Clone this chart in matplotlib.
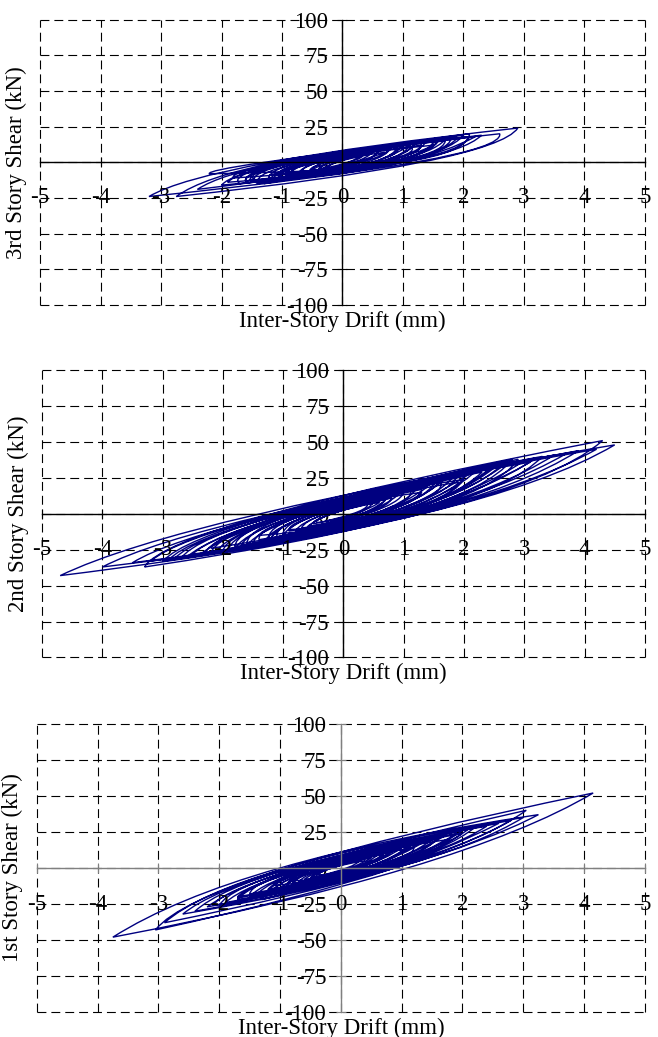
import matplotlib
matplotlib.use("Agg")
import matplotlib.pyplot as plt
from matplotlib.path import Path
from matplotlib.patches import PathPatch

plt.rcParams["font.family"] = ["Liberation Serif", "DejaVu Serif"]
plt.rcParams["axes.unicode_minus"] = False

# x and y ticks shared by all three panels
drift_ticks = [-5, -4, -3, -2, -1, 0, 1, 2, 3, 4, 5]
shear_ticks = [-100, -75, -50, -25, 0, 25, 50, 75, 100]

# 3rd story: turning points (drift mm, shear kN) and the drift where each
# branch between two turning points crosses zero shear
s3_drift = [0.3, -0.4, 0.6, -0.5, 0.9, -0.8, 1.2, -1.0, 1.5, -1.4, 2.1, -2.2,
            1.6, -1.3, 2.6, -3.2, 2.9, -2.75, 2.1, -2.0, 1.8, -1.7, 2.3, -1.9,
            1.5, -1.5, 2.0, -1.6, 1.7, -1.2, 1.3, -1.4, 1.6, -1.0, 1.1, -0.9,
            0.9, -1.1, 1.4, -0.8, 1.2, -0.7, 0.8, -0.6, 1.0, -0.5, 0.6, -0.4,
            0.5, -0.3, 0.3,
            -0.9, 1.3, -1.6, 1.9, -1.2, 1.0, -2.4, 1.7, -1.8, 2.2,
            -0.7, 1.5, -1.3, 0.8, -1.0, 1.2, -0.6, 0.7, -0.4, 0.4]
s3_shear = [5, -7, 9, -8, 12, -11, 14, -12, 16, -15, 20, -8,
            16, -14, 20, -24, 24, -24, 18, -16, 17, -15, 19, -14,
            15, -14, 19, -13, 16, -13, 14, -14, 16, -12, 13, -11,
            11, -12, 15, -10, 13, -9, 10, -9, 12, -8, 8, -7,
            7, -5, 5,
            -10, 12, -13, 17, -9, 13, -19, 15, -11, 18,
            -11, 12, -15, 11, -8, 15, -9, 7, -6, 5]
s3_cross = [0.1, -0.2, 0.3, -0.3, 0.5, -0.5, 0.6, -0.6, 0.8, -0.8, 1.0,
            -1.3, 0.8, -0.9, 1.2, -1.2, 1.3, -1.1, 1.0, -0.9, 0.9, -0.9,
            1.0, -0.9, 0.8, -0.8, 0.9, -0.8, 0.8, -0.7, 0.7, -0.7, 0.8,
            -0.6, 0.6, -0.6, 0.5, -0.6, 0.7, -0.5, 0.6, -0.4, 0.4, -0.4,
            0.5, -0.3, 0.3, -0.2, 0.2, -0.1,
            0.1, -0.5, 0.6, -0.8, 0.9, -0.4, 0.6, -1.0, 0.8, -0.9,
            1.0, -0.5, 0.6, -0.6, 0.3, -0.6, 0.5, -0.2, 0.2, -0.1]

# 2nd story
s2_drift = [0.4, -0.5, 0.8, -0.9, 1.3, -1.4, 2.0, -2.2, 2.9, -3.0, 3.3, -3.3,
            4.3, -4.7, 4.5, -4.0, 4.2, -3.5, 3.9, -3.2, 3.7, -2.8, 3.2, -2.5,
            2.8, -2.9, 3.5, -2.6, 2.6, -2.3, 3.0, -2.0, 2.7, -2.1, 2.4, -1.9,
            2.2, -1.8, 1.9, -2.4, 2.5, -1.7, 1.8, -1.6, 1.7, -1.3, 1.5, -1.5,
            2.1, -1.1, 1.6, -1.2, 1.2, -1.0, 1.0, -1.2, 1.4, -0.8, 0.9, -0.7,
            0.7, -0.6, 0.5, -0.4,
            1.1, -1.8, 2.3, -1.4, 1.6, -2.7, 3.1, -1.2, 1.9, -2.2,
            2.6, -1.0, 1.3, -1.6, 2.0, -0.9, 0.8, -0.6, 0.6, -0.3]
s2_shear = [6, -7, 11, -12, 17, -18, 26, -28, 38, -33, 40, -37,
            51, -43, 48, -37, 45, -34, 44, -33, 42, -31, 39, -28,
            38, -32, 41, -30, 33, -28, 37, -26, 35, -26, 31, -24,
            30, -24, 27, -29, 32, -22, 25, -22, 25, -19, 21, -21,
            28, -16, 22, -17, 17, -15, 15, -17, 19, -12, 13, -10,
            10, -9, 8, -6,
            17, -23, 29, -15, 24, -31, 36, -19, 22, -24,
            36, -17, 15, -24, 24, -11, 14, -10, 8, -5]
s2_cross = [0.15, -0.2, 0.35, -0.4, 0.6, -0.6, 0.9, -0.9, 1.1, -1.1, 1.2,
            -1.2, 1.3, -1.4, 1.3, -1.2, 1.2, -1.1, 1.2, -1.1, 1.1, -1.0,
            1.0, -0.9, 1.0, -1.0, 1.1, -0.9, 0.9, -0.9, 1.0, -0.8, 0.9,
            -0.8, 0.9, -0.8, 0.8, -0.7, 0.7, -0.8, 0.9, -0.7, 0.7, -0.6,
            0.6, -0.5, 0.6, -0.6, 0.7, -0.5, 0.6, -0.5, 0.5, -0.4, 0.4,
            -0.5, 0.5, -0.3, 0.3, -0.3, 0.3, -0.2, 0.2,
            -0.2, 0.5, -0.8, 0.9, -0.6, 0.7, -1.0, 1.1, -0.6, 0.8,
            -0.9, 1.0, -0.5, 0.5, -0.8, 0.8, -0.4, 0.3, -0.2, 0.2]

# 1st story
s1_drift = [0.3, -0.4, 0.7, -0.8, 1.1, -1.2, 1.6, -1.7, 2.2, -2.1, 3.05, -3.05,
            4.15, -3.75, 3.25, -2.9, 3.0, -2.6, 2.8, -2.4, 2.4, -2.2, 2.0, -1.9,
            2.1, -1.7, 1.9, -1.5, 1.7, -1.3, 1.5, -1.4, 1.4, -1.1, 1.2, -0.9,
            1.3, -1.0, 1.0, -0.8, 0.9, -0.7, 0.8, -0.6, 0.6, -0.5, 0.5, -0.3,
            1.0, -1.5, 2.0, -1.1, 1.6, -2.0, 2.6, -0.9, 1.2, -1.7,
            1.8, -0.8, 1.1, -1.2, 0.7, -0.5, 0.4]
s1_shear = [5, -6, 10, -11, 15, -15, 20, -20, 28, -26, 40, -43,
            52, -48, 37, -38, 35, -32, 33, -30, 29, -27, 26, -24,
            27, -22, 24, -20, 22, -22, 20, -19, 19, -15, 17, -13,
            18, -14, 14, -11, 13, -10, 11, -8, 9, -7, 7, -5,
            13, -18, 24, -12, 22, -26, 31, -14, 14, -21,
            20, -9, 16, -17, 9, -7, 5]
s1_cross = [0.1, -0.15, 0.25, -0.3, 0.4, -0.4, 0.5, -0.55, 0.7, -0.7, 0.9,
            -0.9, 1.1, -1.0, 0.9, -0.9, 0.9, -0.8, 0.8, -0.8, 0.7, -0.7,
            0.6, -0.6, 0.7, -0.6, 0.6, -0.5, 0.5, -0.5, 0.5, -0.5, 0.4,
            -0.4, 0.4, -0.3, 0.4, -0.3, 0.3, -0.3, 0.3, -0.25, 0.25, -0.2,
            0.2, -0.2, 0.15,
            -0.15, 0.4, -0.6, 0.7, -0.5, 0.6, -0.7, 0.8, -0.4, 0.5,
            -0.6, 0.6, -0.3, 0.4, -0.4, 0.2, -0.15]

LINE_COLOR = "#000080"
FS = 16.5


def hysteresis_path(peak_d, peak_f, cross_d):
    """Smooth branches: each one runs peak to peak through its zero-shear crossing."""
    verts = [(peak_d[0], peak_f[0])]
    codes = [Path.MOVETO]
    for i in range(len(peak_d) - 1):
        xa, ya = peak_d[i], peak_f[i]
        xb, yb = peak_d[i + 1], peak_f[i + 1]
        # quadratic control point so that the branch passes (cross, 0) halfway
        cx = 2 * cross_d[i] - (xa + xb) / 2
        cy = -(ya + yb) / 2
        verts += [(cx, cy), (xb, yb)]
        codes += [Path.CURVE3, Path.CURVE3]
    return Path(verts, codes)


def draw_panel(ax, peak_d, peak_f, cross_d, ylabel, axis_color="black"):
    ax.set_xlim(-5, 5)
    ax.set_ylim(-100, 100)

    for side in ("top", "right"):
        ax.spines[side].set_visible(False)
    ax.spines["left"].set_position(("data", 0))
    ax.spines["bottom"].set_position(("data", 0))
    for side in ("left", "bottom"):
        ax.spines[side].set_color(axis_color)
        ax.spines[side].set_linewidth(1.0)

    ax.set_xticks(drift_ticks)
    ax.set_yticks(shear_ticks)
    ax.set_xticklabels([])
    ax.set_yticklabels([str(v) for v in shear_ticks])
    ax.tick_params(direction="inout", length=7, color=axis_color,
                   labelsize=FS)
    ax.tick_params(axis="y", pad=7)

    ax.set_axisbelow(True)
    ax.grid(True, color="black", linestyle=(0, (8, 4.5)), linewidth=0.8)
    for gl in ax.get_xgridlines() + ax.get_ygridlines():
        gl.set_clip_on(False)

    # drift labels sit on the -25 gridline
    for v in drift_ticks:
        ax.text(v, -25, str(v), ha="center", va="center", fontsize=FS,
                zorder=4)

    patch = PathPatch(hysteresis_path(peak_d, peak_f, cross_d), fill=False,
                      edgecolor=LINE_COLOR, linewidth=1.0, zorder=2.2)
    ax.add_patch(patch)

    ax.set_xlabel("Inter-Story Drift (mm)", fontsize=FS)
    ax.xaxis.set_label_coords(0.5, -0.02)
    ax.set_ylabel(ylabel, fontsize=FS)
    ax.yaxis.set_label_coords(-0.022, 0.5)


fig = plt.figure(figsize=(6.58, 10.37), dpi=100)
ax3 = fig.add_axes([0.061, 0.706, 0.919, 0.275])
ax2 = fig.add_axes([0.064, 0.366, 0.916, 0.277])
ax1 = fig.add_axes([0.056, 0.024, 0.924, 0.278])

draw_panel(ax3, s3_drift, s3_shear, s3_cross, "3rd Story Shear (kN)")
draw_panel(ax2, s2_drift, s2_shear, s2_cross, "2nd Story Shear (kN)")
draw_panel(ax1, s1_drift, s1_shear, s1_cross, "1st Story Shear (kN)",
           axis_color="#808080")

fig.savefig("out.png", dpi=100)
